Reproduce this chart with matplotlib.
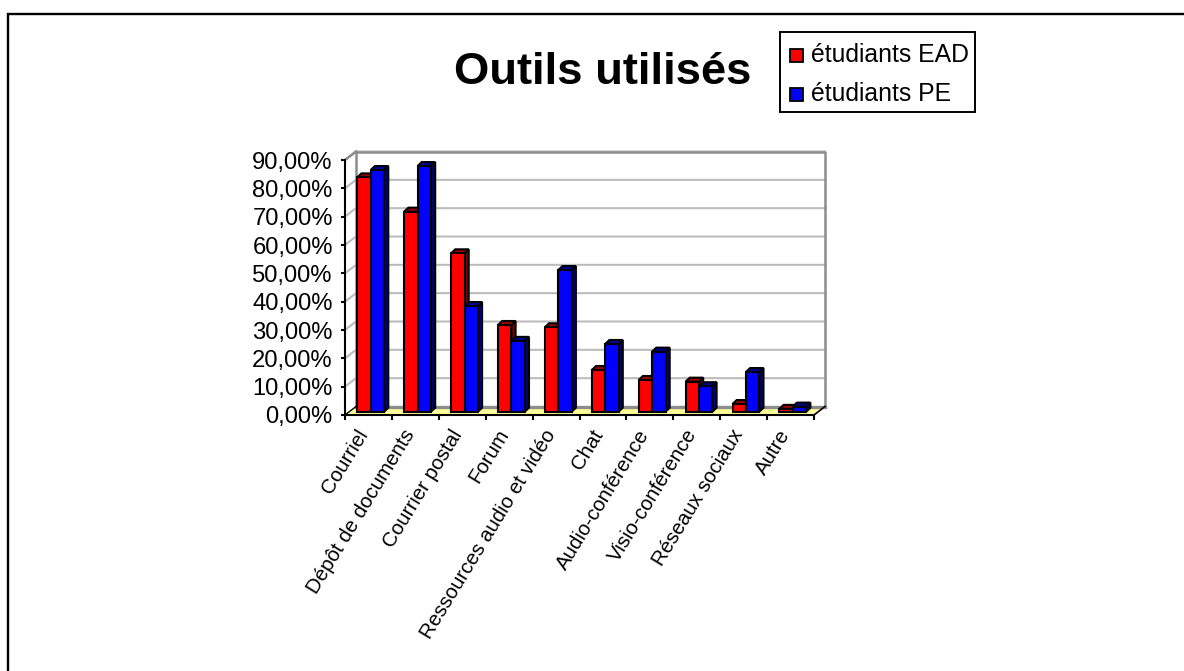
import matplotlib
matplotlib.use("Agg")
import matplotlib.pyplot as plt
from matplotlib.patches import Polygon, Rectangle
from matplotlib.lines import Line2D

plt.rcParams['font.family'] = ['Liberation Sans', 'DejaVu Sans']

categories = ["Courriel", "Dépôt de documents", "Courrier postal", "Forum",
              "Ressources audio et vidéo", "Chat", "Audio-conférence",
              "Visio-conférence", "Réseaux sociaux", "Autre"]
ead = [82.7, 70.6, 55.9, 30.6, 29.8, 14.7, 11.2, 10.6, 2.7, 1.0]
pe = [85.3, 86.7, 37.3, 25.0, 50.0, 23.9, 21.2, 9.0, 14.0, 1.8]
yticks = list(range(0, 100, 10))
yticklabels = [f"{v},00%" for v in yticks]

W, H = 1184, 671
fig = plt.figure(figsize=(W / 100, H / 100), dpi=100, facecolor='white')

# outer frame: only the top and left edges are visible
fig.add_artist(Line2D([8 / W, 8 / W, 1], [0, 1 - 13.5 / H, 1 - 13.5 / H],
                      transform=fig.transFigure, color='black', lw=1.7,
                      solid_joinstyle='miter'))

# front plane of the pseudo-3D box
L, R, T, B = 345, 814, 160, 415
ax = fig.add_axes([L / W, 1 - B / H, (R - L) / W, (B - T) / H])
ax.set_xlim(0, len(categories))
ax.set_ylim(0, 90)
ax.patch.set_visible(False)
for s in ('top', 'right'):
    ax.spines[s].set_visible(False)
for s in ('left', 'bottom'):
    ax.spines[s].set_linewidth(1.5)

# depth of the box and bar depth in data units
DX, DY = 11 * 10 / (R - L), 8.5 * 90 / (B - T)
grey = '#bcbcbc'
dgrey = '#8c8c8c'
kw = dict(clip_on=False)
ax.add_patch(Polygon([(0, 0), (10, 0), (10 + DX, DY), (DX, DY)], fc='#ffff99', ec='none', zorder=1, **kw))
for v in yticks[1:]:
    ax.plot([0, DX, 10 + DX], [v, v + DY, v + DY], color=grey, lw=1.5, zorder=1, **kw)
ax.plot([DX, DX, 10 + DX, 10 + DX], [DY, 90 + DY, 90 + DY, DY], color=dgrey, lw=1.8, zorder=2, **kw)
ax.plot([0, DX], [90, 90 + DY], color=dgrey, lw=1.8, zorder=2, **kw)
ax.plot([DX, 10 + DX], [DY, DY], color=dgrey, lw=2.4, zorder=2, **kw)
ax.plot([0, DX], [0, DY], color='black', lw=1, zorder=2, **kw)
ax.plot([10, 10 + DX], [0, DY], color='black', lw=1.2, zorder=2, **kw)

# bars
BW = 13.4 * 10 / (R - L)
OFF = 12.3 * 10 / (R - L)
bx, by = 4.2 * 10 / (R - L), 4 * 90 / (B - T)
base = 3.3 * 90 / (B - T)
z = 3
lw = 1.5


def bar(x0, v, front, top, side):
    global z
    y0, y1 = base, base + v
    x1 = x0 + BW
    st = dict(ec='black', lw=lw, joinstyle='miter', zorder=z, **kw)
    ax.add_patch(Polygon([(x1, y0), (x1 + bx, y0 + by), (x1 + bx, y1 + by), (x1, y1)], fc=side, **st))
    ax.add_patch(Polygon([(x0, y1), (x1, y1), (x1 + bx, y1 + by), (x0 + bx, y1 + by)], fc=top, **st))
    ax.add_patch(Rectangle((x0, y0), BW, v, fc=front, **st))
    z += 1


for i, (a, b) in enumerate(zip(ead, pe)):
    x = i + OFF
    bar(x, a, '#ff0000', '#a00000', '#800000')
    bar(x + BW, b, '#0000ff', '#0000a0', '#000080')

ax.set_yticks(yticks)
ax.set_yticklabels(yticklabels, fontsize=17.1)
ax.set_xticks(range(len(categories) + 1))
ax.set_xticklabels([])
ax.tick_params(axis='y', length=3, width=1.5, pad=5.8)
ax.tick_params(axis='x', length=3.6, width=1.5)

# rotated category labels, anchored at their upper right end
for i, c in enumerate(categories):
    ax.annotate(c, (i + 0.5, 0), xytext=(-9, -8), textcoords='offset points',
                rotation=58.5, rotation_mode='anchor', ha='right', va='top',
                fontsize=14.8, annotation_clip=False)

fig.text(603 / W, 1 - 73 / H, "Outils utilisés", fontsize=32.7, fontweight='bold',
         ha='center', va='center')

# legend
fig.add_artist(Rectangle((780 / W, 1 - 112 / H), (975 - 780) / W, (112 - 32) / H,
                         transform=fig.transFigure, fc='white', ec='black', lw=1.4))
for name, col, yc in (("étudiants EAD", '#ff0000', 55), ("étudiants PE", '#0000ff', 94)):
    fig.add_artist(Rectangle((790 / W, 1 - (yc + 6.5) / H), 13 / W, 13 / H,
                             transform=fig.transFigure, fc=col, ec='black', lw=1.3))
    fig.text(811 / W, 1 - yc / H, name, fontsize=17.8, ha='left', va='center')

fig.savefig('out.png', dpi=100)
